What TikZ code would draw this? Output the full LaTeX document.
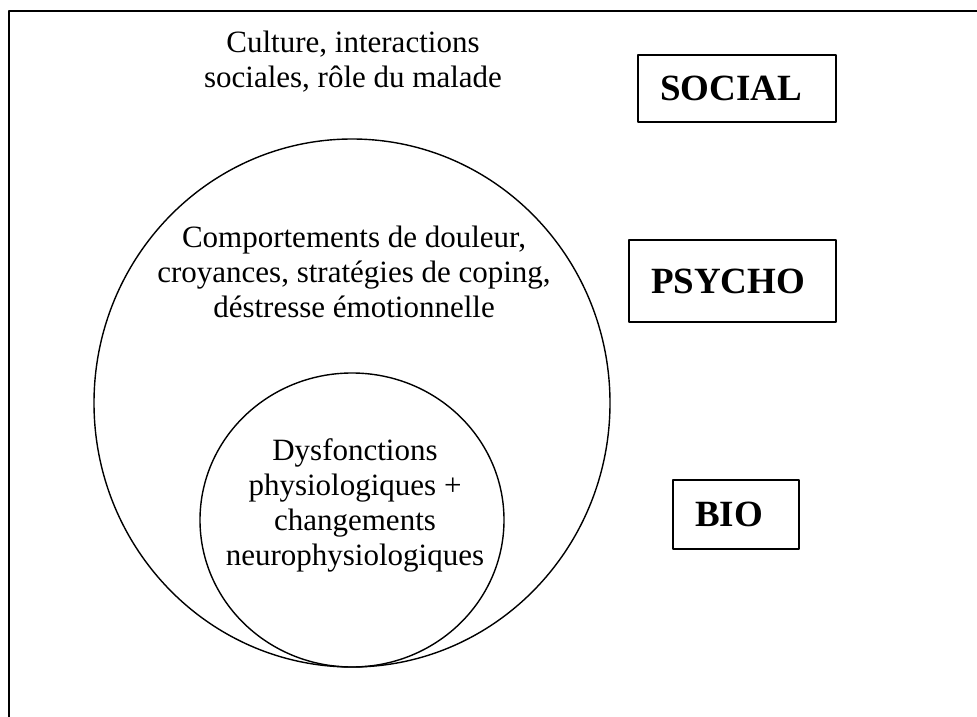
\documentclass[tikz,border=0pt]{standalone}
\usepackage{fontspec}
\usetikzlibrary{shapes.geometric}
\setmainfont{Liberation Serif}
\begin{document}
\begin{tikzpicture}[x=1pt,y=-1pt,line cap=round,line join=round,
    txt/.style={align=center,inner sep=0pt,font=\fontsize{31}{35}\selectfont},
    lab/.style={draw,line width=1.5pt,inner xsep=22pt,inner ysep=0pt,align=left,
      font=\fontsize{37}{40}\selectfont\bfseries},
    ring/.style={draw,ellipse,line width=1.4pt,inner sep=0pt}]
  \useasboundingbox (0,0) rectangle (977,717);
  \draw[line width=2pt] (9,717)--(9,11)--(977,11);
  % cercles
  \node[ring,minimum width=516pt,minimum height=528pt] (psycho) at (352,403) {};
  \node[ring,minimum width=304pt,minimum height=294pt] (bio) at (352,520) {};
  % textes
  \node[txt] (tsoc) at (353,62) {Culture, interactions\\sociales, rôle du malade};
  \node[txt] (tpsy) at (354,272) {Comportements de douleur,\\croyances, stratégies de coping,\\déstresse émotionnelle};
  \node[txt] (tbio) at (355,505) {Dysfonctions\\physiologiques +\\changements\\neurophysiologiques};
  % etiquettes
  \node[lab,text width=154pt,minimum height=67pt] (social) at (737,88.5) {SOCIAL};
  \node[lab,text width=163pt,minimum height=82pt] (psy) at (732.5,281) {PSYCHO};
  \node[lab,text width=82pt,minimum height=69pt] (bi) at (736,514.5) {BIO};
\end{tikzpicture}
\end{document}
